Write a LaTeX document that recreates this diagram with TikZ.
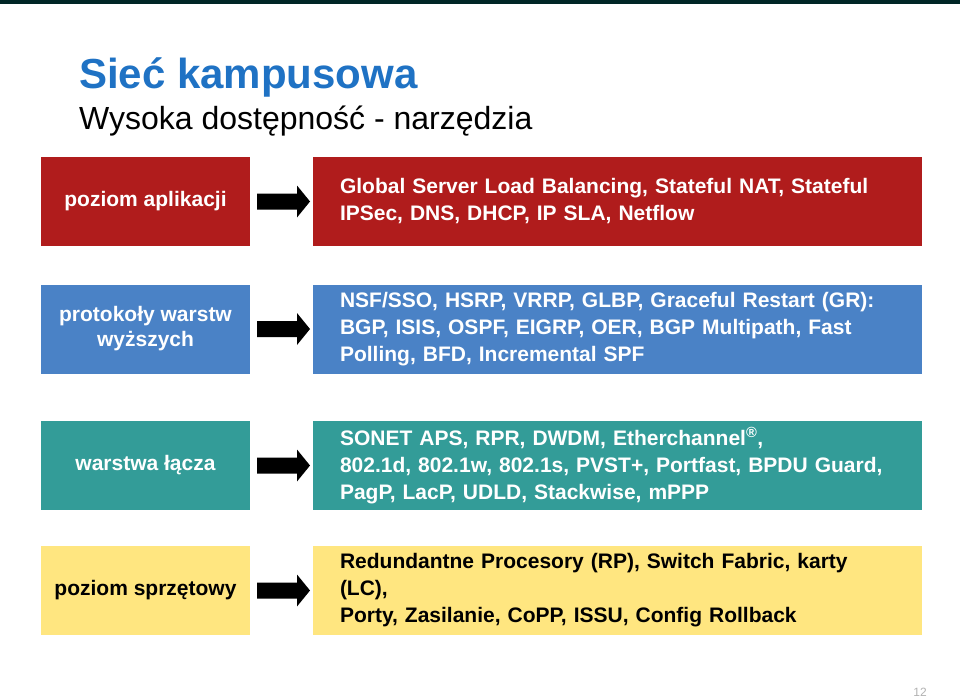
\documentclass[tikz,border=0pt]{standalone}
\usepackage{fontspec}
\setmainfont{Liberation Sans}
\begin{document}
\begin{tikzpicture}[x=1pt,y=-1pt,
 lbox/.style={minimum width=209pt,minimum height=89pt,inner sep=0pt,align=center,font=\bfseries\fontsize{21}{25}\selectfont},
 rbox/.style={minimum width=609pt,minimum height=89pt,inner sep=0pt,text width=555pt,align=left,font=\bfseries\fontsize{21}{27}\selectfont},
 bigarrow/.style={fill=black}]
\useasboundingbox (0,0) rectangle (960,699);
\fill[white] (0,0) rectangle (960,699);
\fill[black!70!teal] (0,0) rectangle (960,4);
\definecolor{ctitle}{HTML}{1F72C4}
\node[anchor=west,text=ctitle,font=\bfseries\fontsize{42}{46}\selectfont,inner sep=0pt] (t) at (79,77) {Sieć kampusowa};
\node[anchor=west,font=\fontsize{32}{36}\selectfont,inner sep=0pt] (s) at (79,121) {Wysoka dostępność - narzędzia};
\definecolor{cr}{HTML}{B01C1C}\definecolor{cb}{HTML}{4A82C6}\definecolor{ct}{HTML}{339C98}\definecolor{cy}{HTML}{FFE680}
\foreach \y/\c/\tc/\l/\r [count=\i] in {
 201.5/cr/white/{poziom aplikacji}/{Global Server Load Balancing, Stateful NAT, Stateful\\IPSec, DNS, DHCP, IP SLA, Netflow},
 329/cb/white/{protokoły warstw\\wyższych}/{NSF/SSO, HSRP, VRRP, GLBP, Graceful Restart (GR):\\BGP, ISIS, OSPF, EIGRP, OER, BGP Multipath, Fast\\Polling, BFD, Incremental SPF},
 465.5/ct/white/{warstwa łącza}/{SONET APS, RPR, DWDM, Etherchannel\textsuperscript{\textregistered},\\802.1d, 802.1w, 802.1s, PVST+, Portfast, BPDU Guard,\\PagP, LacP, UDLD, Stackwise, mPPP},
 590.5/cy/black/{poziom sprzętowy}/{Redundantne Procesory (RP), Switch Fabric, karty (LC),\\Porty, Zasilanie, CoPP, ISSU, Config Rollback}}{
 \node[lbox,fill=\c,text=\tc] (l\i) at (145.5,\y) {\l};
 \node[rbox,fill=\c,text=\tc] (r\i) at (617.5,\y) {\r};
 \fill[bigarrow] (257,\y-8) -- (297,\y-8) -- (297,\y-16) -- (310,\y) -- (297,\y+16) -- (297,\y+8) -- (257,\y+8) -- cycle;
}
\node[text=black!30,font=\fontsize{12}{14}\selectfont,inner sep=0pt] (pg) at (920,692) {12};
\end{tikzpicture}
\end{document}
